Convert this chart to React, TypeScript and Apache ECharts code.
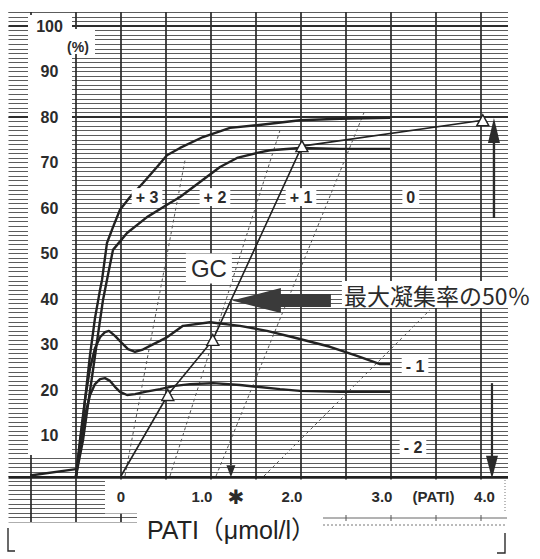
import React, { useEffect, useRef } from "react";
import * as echarts from "echarts";

// ---- axes (x: PATI µmol/l scale, y: aggregation %) ----
const X_MIN = -1.25;
const X_MAX = 4.3;
const Y_MIN = -9;
const Y_MAX = 103.1;
const yTickLabels = [10, 20, 30, 40, 50, 60, 70, 80, 90, 100];
const xTickLabels = [0, 1, 2, 3, 4];
const xAxisNoteAt = 3.5;
const xAxisNote = "(PATI)";
const verticalGrid = [-1, -0.5, 0, 0.5, 1, 1.5, 2, 2.5, 3, 3.5, 4];
const heavyHorizontal = [80, 100];
const baselineLevel = 0.8;

// ---- aggregation traces [x, %] ----
const preTrace = [[-1.01, 1.2], [-0.5, 2.6]];
const tracePlus3 = [[-0.5,1.1],[-0.456,9.0],[-0.4,17.8],[-0.344,27.7],[-0.289,35.8],[-0.233,42.0],[-0.211,44.2],[-0.156,52.3],[-0.089,55.8],[-0.011,59.6],[0.1,62.4],[0.244,65.5],[0.4,69.0],[0.511,71.6],[0.656,73.2],[0.911,75.6],[1.211,77.6],[1.511,78.2],[1.989,79.3],[2.433,79.6],[2.989,79.8]];
const tracePlus2 = [[-0.5,1.1],[-0.422,9.0],[-0.367,16.7],[-0.311,24.4],[-0.256,32.1],[-0.2,39.8],[-0.156,44.2],[-0.089,50.8],[0.067,54.5],[0.289,58.0],[0.511,60.7],[0.656,62.4],[0.911,66.2],[1.1,69.0],[1.289,71.0],[1.511,72.1],[1.656,72.7],[1.989,73.2],[2.433,73.0],[2.989,73.0]];
const traceMinus1 = [[-0.5,1.1],[-0.456,7.9],[-0.4,17.8],[-0.344,24.8],[-0.289,29.2],[-0.233,31.6],[-0.178,32.7],[-0.133,33.0],[-0.067,31.9],[0.011,30.3],[0.078,29.0],[0.156,28.4],[0.233,28.8],[0.322,29.7],[0.433,30.8],[0.511,31.6],[0.689,34.1],[0.989,34.9],[1.322,34.1],[1.622,33.0],[1.911,31.6],[2.322,29.5],[2.622,27.5],[2.878,25.7],[2.989,25.7]];
const traceMinus2 = [[-0.5,1.1],[-0.456,6.8],[-0.4,14.5],[-0.344,18.9],[-0.289,21.3],[-0.233,22.4],[-0.178,22.6],[-0.122,22.0],[-0.067,20.7],[-0.011,19.6],[0.067,18.9],[0.156,19.1],[0.267,19.6],[0.433,20.2],[0.6,20.9],[0.767,21.3],[1.022,21.5],[1.322,21.1],[1.511,20.7],[1.767,20.2],[1.989,19.8],[2.433,19.6],[2.989,19.6]];

// ---- grade boundary (dashed) lines ----
const gradeLineA = [[0.044, 1.1], [0.711, 70.5]];
const gradeLineB = [[0.544, 1.1], [1.767, 77.1]];
const gradeLineC = [[1.056, 1.1], [2.711, 81.5]];
const gradeLineD = [[1.589, 1.1], [3.433, 37.6]];

// ---- dose-response (PATI concentration vs max aggregation) ----
const doseConc = [0, 0.52, 1.02, 2.01, 4.02];
const doseMaxAgg = [1.1, 18.9, 31.0, 73.6, 79.3];

// ---- grade labels ----
const gradeLabels = ["+ 3", "+ 2", "+ 1", "0", "- 1", "- 2"];
const gradeLabelAt = [[0.289, 62.4], [1.044, 62.4], [2.0, 62.4], [3.22, 62.4], [3.267, 25.1], [3.244, 7.3]];

// ---- arrows on the right ----
const upArrow = { x: 4.144, from: 57.8, to: 79.8 };
const downArrow = { x: 4.122, from: 21.5, to: 0.5 };

const FONT = '"Liberation Sans", Arial';
const CJK = '"Noto Sans CJK JP", "Noto Sans CJK SC"';
const INK = "#2b2b2b";

function near(a: number, b: number) {
  return Math.abs(a - b) < 1e-6;
}

function gcPoint() {
  const half = Math.max(...doseMaxAgg) / 2;
  for (let i = 1; i < doseConc.length; i++) {
    const v0 = doseMaxAgg[i - 1];
    const v1 = doseMaxAgg[i];
    if (v0 <= half && v1 >= half) {
      const t = (half - v0) / (v1 - v0);
      return [doseConc[i - 1] + t * (doseConc[i] - doseConc[i - 1]), half];
    }
  }
  return [0, half];
}

export default function App() {
  const ref = useRef<HTMLDivElement>(null);

  useEffect(() => {
    const chart = echarts.init(ref.current!, null, { renderer: "svg" });

    const lineSeries = (data: number[][], color: string, width: number, z: number, extra: any = {}) => ({
      type: "line",
      data,
      symbol: "none",
      silent: true,
      z,
      lineStyle: { color, width, ...(extra.lineStyle || {}) },
    });

    const series: any[] = [];
    verticalGrid.forEach((u) => series.push(lineSeries([[u, Y_MIN], [u, Y_MAX]], "#2a2a2a", 1.7, 1)));
    heavyHorizontal.forEach((v) => series.push(lineSeries([[X_MIN, v], [X_MAX, v]], "#2e2e2e", 1.8, 1)));
    series.push(lineSeries([[X_MIN, baselineLevel], [X_MAX, baselineLevel]], "#222", 2.6, 1));
    [gradeLineA, gradeLineB, gradeLineC, gradeLineD].forEach((d) =>
      series.push(lineSeries(d, "#555", 1, 2, { lineStyle: { type: [3, 3] } }))
    );
    series.push(lineSeries(preTrace, "#222", 2.4, 3));
    [tracePlus3, tracePlus2, traceMinus1, traceMinus2].forEach((d) => series.push(lineSeries(d, "#222", 2.4, 3)));
    series.push({
      type: "line",
      data: doseConc.map((c, i) => ({
        value: [c, doseMaxAgg[i]],
        symbol: i === 0 ? "none" : "triangle",
      })),
      symbolSize: [12, 11],
      showAllSymbol: true,
      silent: true,
      z: 3,
      lineStyle: { color: "#222", width: 1.6 },
      itemStyle: { color: "#fff", borderColor: "#222", borderWidth: 1.4 },
    });

    const labelStyle = { fontSize: 15, fontWeight: "bold", fontFamily: FONT, color: INK };

    chart.setOption({
      animation: false,
      backgroundColor: "#fff",
      grid: { left: 8.5, top: 11.9, width: 499.5, height: 510.05, containLabel: false },
      xAxis: {
        type: "value",
        min: X_MIN,
        max: X_MAX,
        interval: 0.25,
        z: 10,
        axisLine: { show: false },
        axisTick: { show: false },
        splitLine: { show: false },
        axisLabel: {
          inside: true,
          margin: 18,
          showMinLabel: true,
          showMaxLabel: true,
          formatter: (value: number) => {
            if (near(value, xAxisNoteAt)) return `{p|${xAxisNote}}`;
            const t = xTickLabels.find((k) => near(value, k));
            if (t === undefined) return "";
            if (t === 0) return "{c|0}";
            if (t === xTickLabels[xTickLabels.length - 1]) return `{r|${t.toFixed(1)}}`;
            return `{s|${t.toFixed(1)}}`;
          },
          rich: {
            c: { ...labelStyle },
            s: { ...labelStyle, padding: [0, 18, 0, 0] },
            r: { ...labelStyle, padding: [0, 0, 0, 7] },
            p: { ...labelStyle, padding: [0, 5, 0, 0] },
          },
        },
      },
      yAxis: [
        {
          type: "value",
          min: Y_MIN,
          max: Y_MAX,
          interval: 1,
          z: 0,
          axisLine: { show: false },
          axisTick: { show: false },
          axisLabel: { show: false },
          splitLine: { show: true, lineStyle: { color: "#5c5c5c", width: 1 } },
        },
        {
          type: "value",
          min: Y_MIN,
          max: Y_MAX,
          interval: 1,
          position: "left",
          z: 10,
          axisLine: { show: false },
          axisTick: { show: false },
          splitLine: { show: false },
          axisLabel: {
            inside: true,
            margin: 41,
            align: "center",
            fontSize: 16,
            fontWeight: "bold",
            fontFamily: FONT,
            color: INK,
            formatter: (value: number) => {
              const t = yTickLabels.find((k) => near(value, k));
              return t === undefined ? "" : String(t);
            },
          },
        },
      ],
      series,
    });

    const P = (u: number, v: number) =>
      chart.convertToPixel({ xAxisIndex: 0, yAxisIndex: 0 }, [u, v]) as number[];

    const g: any[] = [];
    const white = (x: number, y: number, w: number, h: number) =>
      g.push({ type: "rect", shape: { x, y, width: w, height: h }, style: { fill: "#fff" }, z: 4, silent: true });
    const text = (x: number, y: number, s: string, font: string, extra: any = {}) =>
      g.push({
        type: "text",
        x,
        y,
        z: 12,
        silent: true,
        style: { text: s, font, fill: INK, textAlign: "center", textVerticalAlign: "middle", ...extra },
      });
    const seg = (x1: number, y1: number, x2: number, y2: number, w: number, extra: any = {}) =>
      g.push({ type: "line", shape: { x1, y1, x2, y2 }, style: { stroke: INK, lineWidth: w, ...extra }, z: 12, silent: true });
    const poly = (pts: number[][], fill: string) =>
      g.push({ type: "polygon", shape: { points: pts }, style: { fill }, z: 12, silent: true });

    // white panels of the printed chart paper
    white(28, 15, 44, 440);
    white(72, 29, 23, 25);
    white(105, 479.5, 404, 34);
    white(137, 513, 403, 46);
    white(0, 522.5, 540, 37);
    white(508.5, 0, 32, 559);

    // bottom decorations
    seg(323, 518, 507, 518, 1, { stroke: "#666" });
    seg(323, 525, 507, 525, 1, { stroke: "#777", lineDash: [2, 2] });
    verticalGrid.filter((u) => u >= 2.5).forEach((u) => {
      const [x] = P(u, 0);
      seg(x, 515, x, 521, 1, { stroke: "#555" });
    });
    seg(505, 480, 505, 512, 1, { stroke: "#777", lineDash: [1, 2] });
    g.push({ type: "polyline", shape: { points: [[8, 528], [8, 551], [15, 551]] }, style: { stroke: INK, lineWidth: 1.4, fill: null }, z: 12 });
    g.push({ type: "polyline", shape: { points: [[505, 533], [505, 553], [497, 553]] }, style: { stroke: INK, lineWidth: 1.4, fill: null }, z: 12 });

    // axis unit texts
    text(78, 47, "(%)", `bold 14px ${FONT}`);
    text(147, 530, "PATI（μmol/l）", `25px ${FONT}, ${CJK}`, { textAlign: "left", fill: "#222" });

    // grade labels
    gradeLabels.forEach((s, i) => {
      const [x, y] = P(gradeLabelAt[i][0], gradeLabelAt[i][1]);
      text(x, y, s, `bold 16px ${FONT}`, { backgroundColor: "#fff", padding: [1, 4] });
    });

    // GC construction
    const [gu, gv] = gcPoint();
    const [gx, gy] = P(gu, gv);
    const [, by] = P(gu, baselineLevel);
    seg(gx, gy, gx, by - 12, 1.8);
    poly([[gx - 4.5, by - 12], [gx + 4.5, by - 12], [gx, by]], INK);
    poly(
      [
        [gx + 1, gy],
        [gx + 50, gy - 12.5],
        [gx + 50, gy - 6.5],
        [gx + 100, gy - 6.5],
        [gx + 100, gy + 6.5],
        [gx + 50, gy + 6.5],
        [gx + 50, gy + 12.5],
      ],
      "#3a3a3a"
    );
    text(gx - 22, gy - 32, "GC", `24px ${FONT}`, { backgroundColor: "#fff", padding: [3, 5] });
    text(gx + 111, gy - 6, "最大凝集率の50％", `23px ${CJK}`, {
      textAlign: "left",
      backgroundColor: "#fff",
      padding: [2, 2],
    });
    text(gx + 5, 497, "✱", `20px "DejaVu Sans"`);

    // right-hand arrows
    {
      const [ux, uy0] = P(upArrow.x, upArrow.from);
      const [, uy1] = P(upArrow.x, upArrow.to);
      seg(ux, uy0, ux, uy1 + 24, 2.4);
      poly([[ux - 6, uy1 + 25], [ux + 6, uy1 + 25], [ux, uy1]], INK);
      const [dx, dy0] = P(downArrow.x, downArrow.from);
      const [, dy1] = P(downArrow.x, downArrow.to);
      seg(dx, dy0, dx, dy1 - 22, 2.2);
      poly([[dx - 6, dy1 - 23], [dx + 6, dy1 - 23], [dx, dy1]], INK);
    }

    chart.setOption({ graphic: { elements: g } });

    return () => chart.dispose();
  }, []);

  return (
    <div
      ref={ref}
      style={{ position: "absolute", left: 0, top: 0, width: 540, height: 559, background: "#fff" }}
    />
  );
}
